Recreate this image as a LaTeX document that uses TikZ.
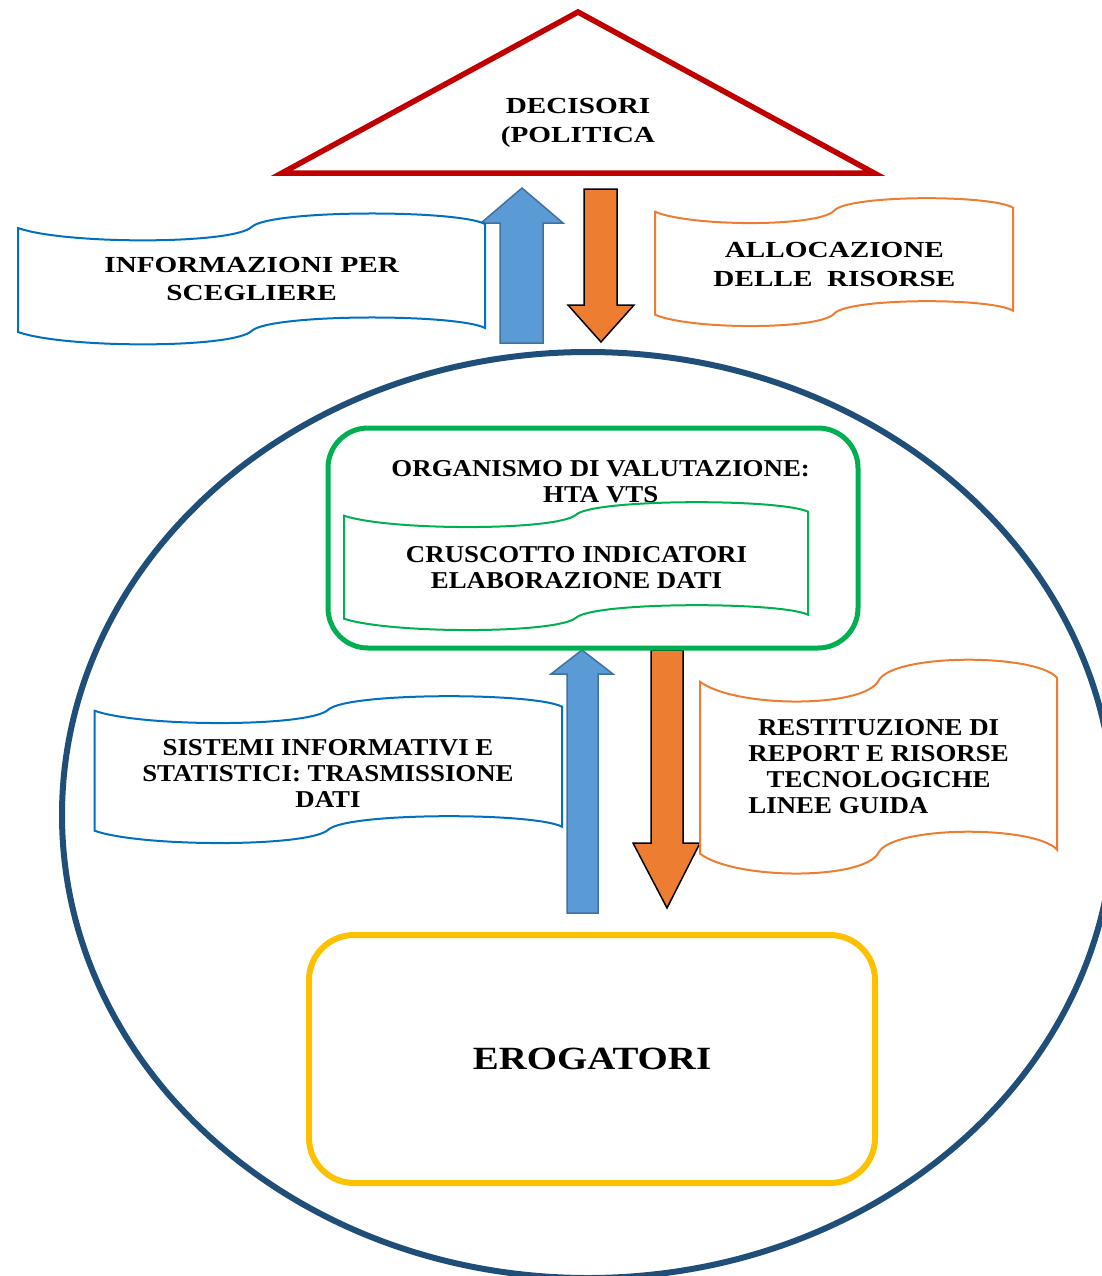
\documentclass[tikz,border=0pt]{standalone}
\usepackage{fontspec}
\setmainfont{Liberation Serif}
\newfontfamily\topfont[FakeStretch=1.27]{Liberation Serif}
\newfontfamily\lowfont[FakeStretch=1.11]{Liberation Serif}
\newfontfamily\bigfont[FakeStretch=1.2]{Liberation Serif}
\usetikzlibrary{shapes.geometric}
\definecolor{redtri}{HTML}{C00000}
\definecolor{circ}{HTML}{1F4E79}
\definecolor{grn}{HTML}{00B050}
\definecolor{yel}{HTML}{FFC000}
\definecolor{bfill}{HTML}{5B9BD5}
\definecolor{bline}{HTML}{41719C}
\definecolor{orng}{HTML}{ED7D31}
\definecolor{bban}{HTML}{0070C0}
\newcommand\wavebanner[6]{%
 \path[#1] (#2,#3)
   .. controls ({#2+0.10*#4},{#3+1.33*#6}) and ({#2+0.46*#4},{#3+1.33*#6}) .. ({#2+0.5*#4},{#3-1})
   .. controls ({#2+0.54*#4},{#3-1.33*(#6+1.4)}) and ({#2+0.94*#4},{#3-1.33*(#6+1.4)}) .. ({#2+#4},{#3-4})
   -- ({#2+#4},{#3-4+#5})
   .. controls ({#2+0.94*#4},{#3+#5-1.33*(#6+1.4)}) and ({#2+0.54*#4},{#3+#5-1.33*(#6+1.4)}) .. ({#2+0.5*#4},{#3+#5-1})
   .. controls ({#2+0.46*#4},{#3+#5+1.33*#6}) and ({#2+0.10*#4},{#3+#5+1.33*#6}) .. (#2,{#3+#5})
   -- cycle;}
\tikzset{
  toptext/.style={font=\topfont\bfseries\fontsize{11.5}{14.5}\selectfont, align=center, inner sep=0pt},
  lowtext/.style={font=\lowfont\bfseries\fontsize{12.1}{13}\selectfont, align=center, inner sep=0pt},
  blueban/.style={draw=bban, line width=1pt, fill=white},
  orangeban/.style={draw=orng, line width=1pt, fill=white},
  greenban/.style={draw=grn, line width=1pt, fill=white},
  uparrow/.style={fill=bfill, draw=bline, line width=0.75pt, line join=miter},
  downarrow/.style={fill=orng, draw=black, line width=0.75pt, line join=miter},
}
\begin{document}
\begin{tikzpicture}[x=0.5pt,y=-0.5pt]
\useasboundingbox (0,0) rectangle (1102,1276);
\clip (0,0) rectangle (1102,1276);

% big circle
\node[draw=circ, line width=3pt, ellipse, minimum width=526pt, minimum height=463pt, inner sep=0pt] (sistema) at (588,815) {};

% triangle
\coordinate (apex) at (578,12);
\coordinate (bl) at (282,173);
\coordinate (br) at (874,173);
\draw[redtri, line width=2.75pt, line join=miter] (apex) -- (br) -- (bl) -- cycle;
\node[toptext] (decisori) at (578,123) {DECISORI\\(POLITICA};

% top arrows
\draw[uparrow] (500,343) -- (500,223) -- (481,223) -- (522,188) -- (563,223) -- (543,223) -- (543,343) -- cycle;
\draw[downarrow] (584,189) -- (617,189) -- (617,305) -- (634,305) -- (601,342) -- (568,305) -- (584,305) -- cycle;

% top banners
\wavebanner{blueban}{18}{228}{467}{104}{12.5}
\node[toptext, font=\topfont\bfseries\fontsize{11.5}{14}\selectfont] (info) at (251.7,279) {INFORMAZIONI PER\\SCEGLIERE};
\wavebanner{orangeban}{655}{211.7}{358}{103}{11.5}
\node[toptext] (alloc) at (834.4,264) {ALLOCAZIONE\\DELLE\ \ RISORSE};

% middle arrows
\draw[uparrow] (567,913) -- (567,674) -- (551,674) -- (582,650) -- (613,674) -- (598,674) -- (598,913) -- cycle;
\draw[downarrow] (651,650) -- (683,650) -- (683,843) -- (700,843) -- (667,908) -- (633,843) -- (651,843) -- cycle;

% evaluation body
\node[draw=grn, line width=2.5pt, rounded corners=20pt, minimum width=265pt, minimum height=110pt, inner sep=0pt] (valut) at (593,538) {};
\node[lowtext] (organismo) at (600.7,482) {ORGANISMO DI VALUTAZIONE:\\HTA VTS};
\wavebanner{greenban}{344}{515.7}{464}{103}{11.5}
\node[lowtext] (cruscotto) at (576.5,568) {CRUSCOTTO INDICATORI\\ELABORAZIONE DATI};

% lower banners
\wavebanner{blueban}{94.5}{710.7}{467.5}{120}{12.5}
\node[lowtext] (sistemi) at (328,773) {SISTEMI INFORMATIVI E\\STATISTICI: TRASMISSIONE\\DATI};
\wavebanner{orangeban}{700}{681.7}{357}{172}{20}
\node[lowtext] (restit) at (878.6,767) {RESTITUZIONE DI\\REPORT E RISORSE\\TECNOLOGICHE\\\rlap{LINEE GUIDA}\phantom{REPORT E RISORSE}};

% providers
\node[draw=yel, line width=3pt, rounded corners=22.5pt, minimum width=283pt, minimum height=124pt, inner sep=0pt,
      font=\bigfont\bfseries\fontsize{16.2}{19}\selectfont] (erog) at (592,1059) {EROGATORI};
\end{tikzpicture}
\end{document}
